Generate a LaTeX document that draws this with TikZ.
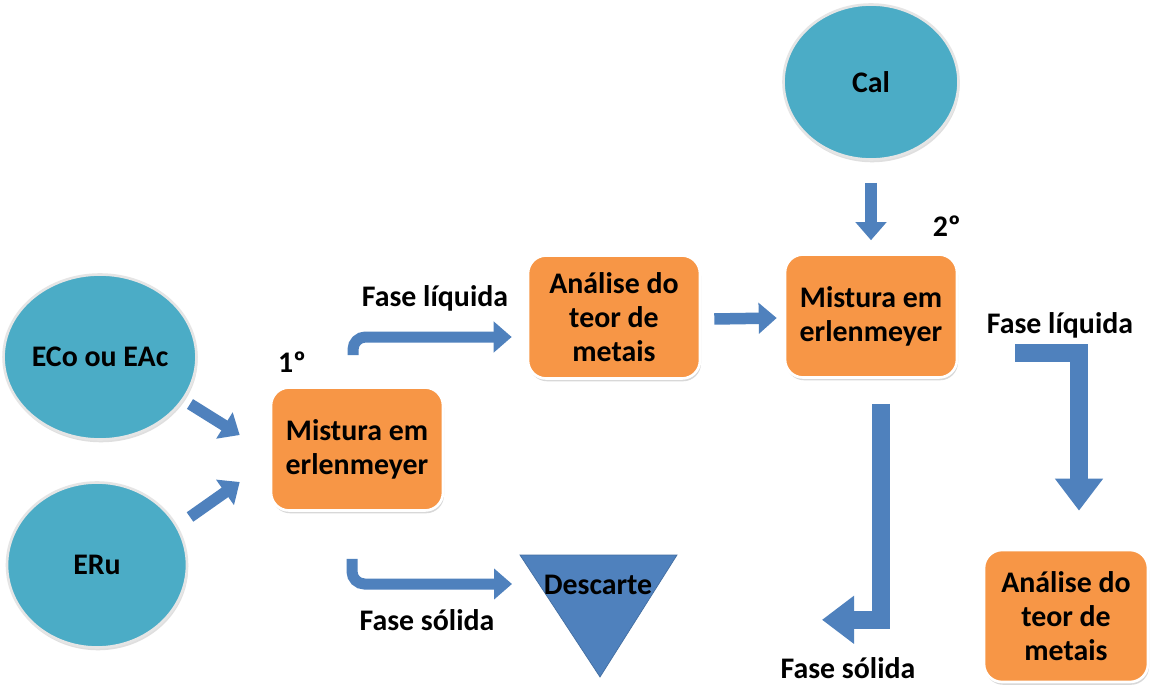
\documentclass[tikz,border=0pt]{standalone}
\usepackage{fontspec}
\setmainfont{Carlito}
\usetikzlibrary{positioning,calc,arrows.meta,shapes.geometric,shadows}
\definecolor{ellblue}{HTML}{4BACC6}
\definecolor{boxorange}{HTML}{F79646}
\definecolor{arblue}{HTML}{4F81BD}
\begin{document}
\begin{tikzpicture}[x=0.02cm, y=-0.02cm,
  every node/.style={font=\bfseries\fontsize{17}{19.5}\selectfont},
  box/.style={rectangle, rounded corners=0.36cm, draw=white, line width=1.5pt,
              fill=boxorange, drop shadow={opacity=0.3, shadow xshift=0.6pt, shadow yshift=-1.6pt},
              minimum width=3.44cm, minimum height=2.46cm, align=center, inner sep=0pt},
  ell/.style={ellipse, draw=white!80!gray, line width=1.5pt, fill=ellblue,
              drop shadow={opacity=0.25, shadow xshift=0.6pt, shadow yshift=-1.6pt},
              minimum width=3.6cm, minimum height=3.3cm, inner sep=0pt},
  ar/.style={draw=arblue, line width=0.23cm, -{Triangle[width=0.6cm,length=0.36cm]}},
  bigar/.style={draw=arblue, line width=0.36cm, -{Triangle[width=0.92cm,length=0.64cm]}}
]
  \path[use as bounding box, fill=white] (0,0) rectangle (1150,686);

  \node[ell] (eco) at (100,357) {ECo ou EAc};
  \node[ell] (eru) at (97,565) {ERu};
  \node[ell, minimum width=3.5cm, minimum height=3.1cm] (cal) at (871,82) {Cal};
  \node[box] (m1) at (357,449) {Mistura em\\erlenmeyer};
  \node[box] (a1) at (614,317) {Análise do\\teor de\\metais};
  \node[box] (m2) at (871,316) {Mistura em\\erlenmeyer};
  \node[box, minimum width=3.28cm, minimum height=2.64cm] (a2) at (1066,616) {Análise do\\teor de\\metais};
  \node[above right=0.26cm and 0.16cm of m1.north west, inner sep=0pt] (n1) {1º};
  \node[above left=0.32cm and -0.06cm of m2.north east, inner sep=0pt] (n2) {2º};

  \coordinate (dtop) at (520,555);
  \filldraw[fill=arblue, draw=arblue!85!black] (dtop) -- (677,555) -- (600,677) -- cycle;
  \node (desc) at (598,585) {Descarte};

  \node (fl1) at (435,298) {Fase líquida};
  \node (fs1) at (427,620) {Fase sólida};
  \node (fl2) at (1060,325) {Fase líquida};
  \node (fs2) at (848,668) {Fase sólida};

  \draw[ar] ($(eco)+(90,47)$) -- ($(m1.west)+(-30,-14)$);
  \draw[ar] ($(eru)+(93,-48)$) -- ($(m1.west)+(-30,33)$);
  \draw[ar, line width=0.22cm, rounded corners=0.25cm] ($(m1.north)+(-4,-31)$) |- ($(a1.west)+(-15,20)$);
  \draw[ar, line width=0.22cm, rounded corners=0.25cm] ($(m1.south)+(-5,47)$) |- ($(dtop)+(-8,29)$);
  \draw[ar] ($(a1.east)+(13,2)$) -- ($(m2.west)+(-7,2)$);
  \draw[ar] ($(cal.south)+(0,22)$) -- ($(m2.north)+(0,-13)$);
  \draw[bigar] ($(m2.south)+(10,25)$) |- ($(m2.south)+(-49,241)$);
  \draw[bigar] ($(m2.east)+(57,37)$) -| ($(a2.north)+(13,-38)$);
\end{tikzpicture}
\end{document}
